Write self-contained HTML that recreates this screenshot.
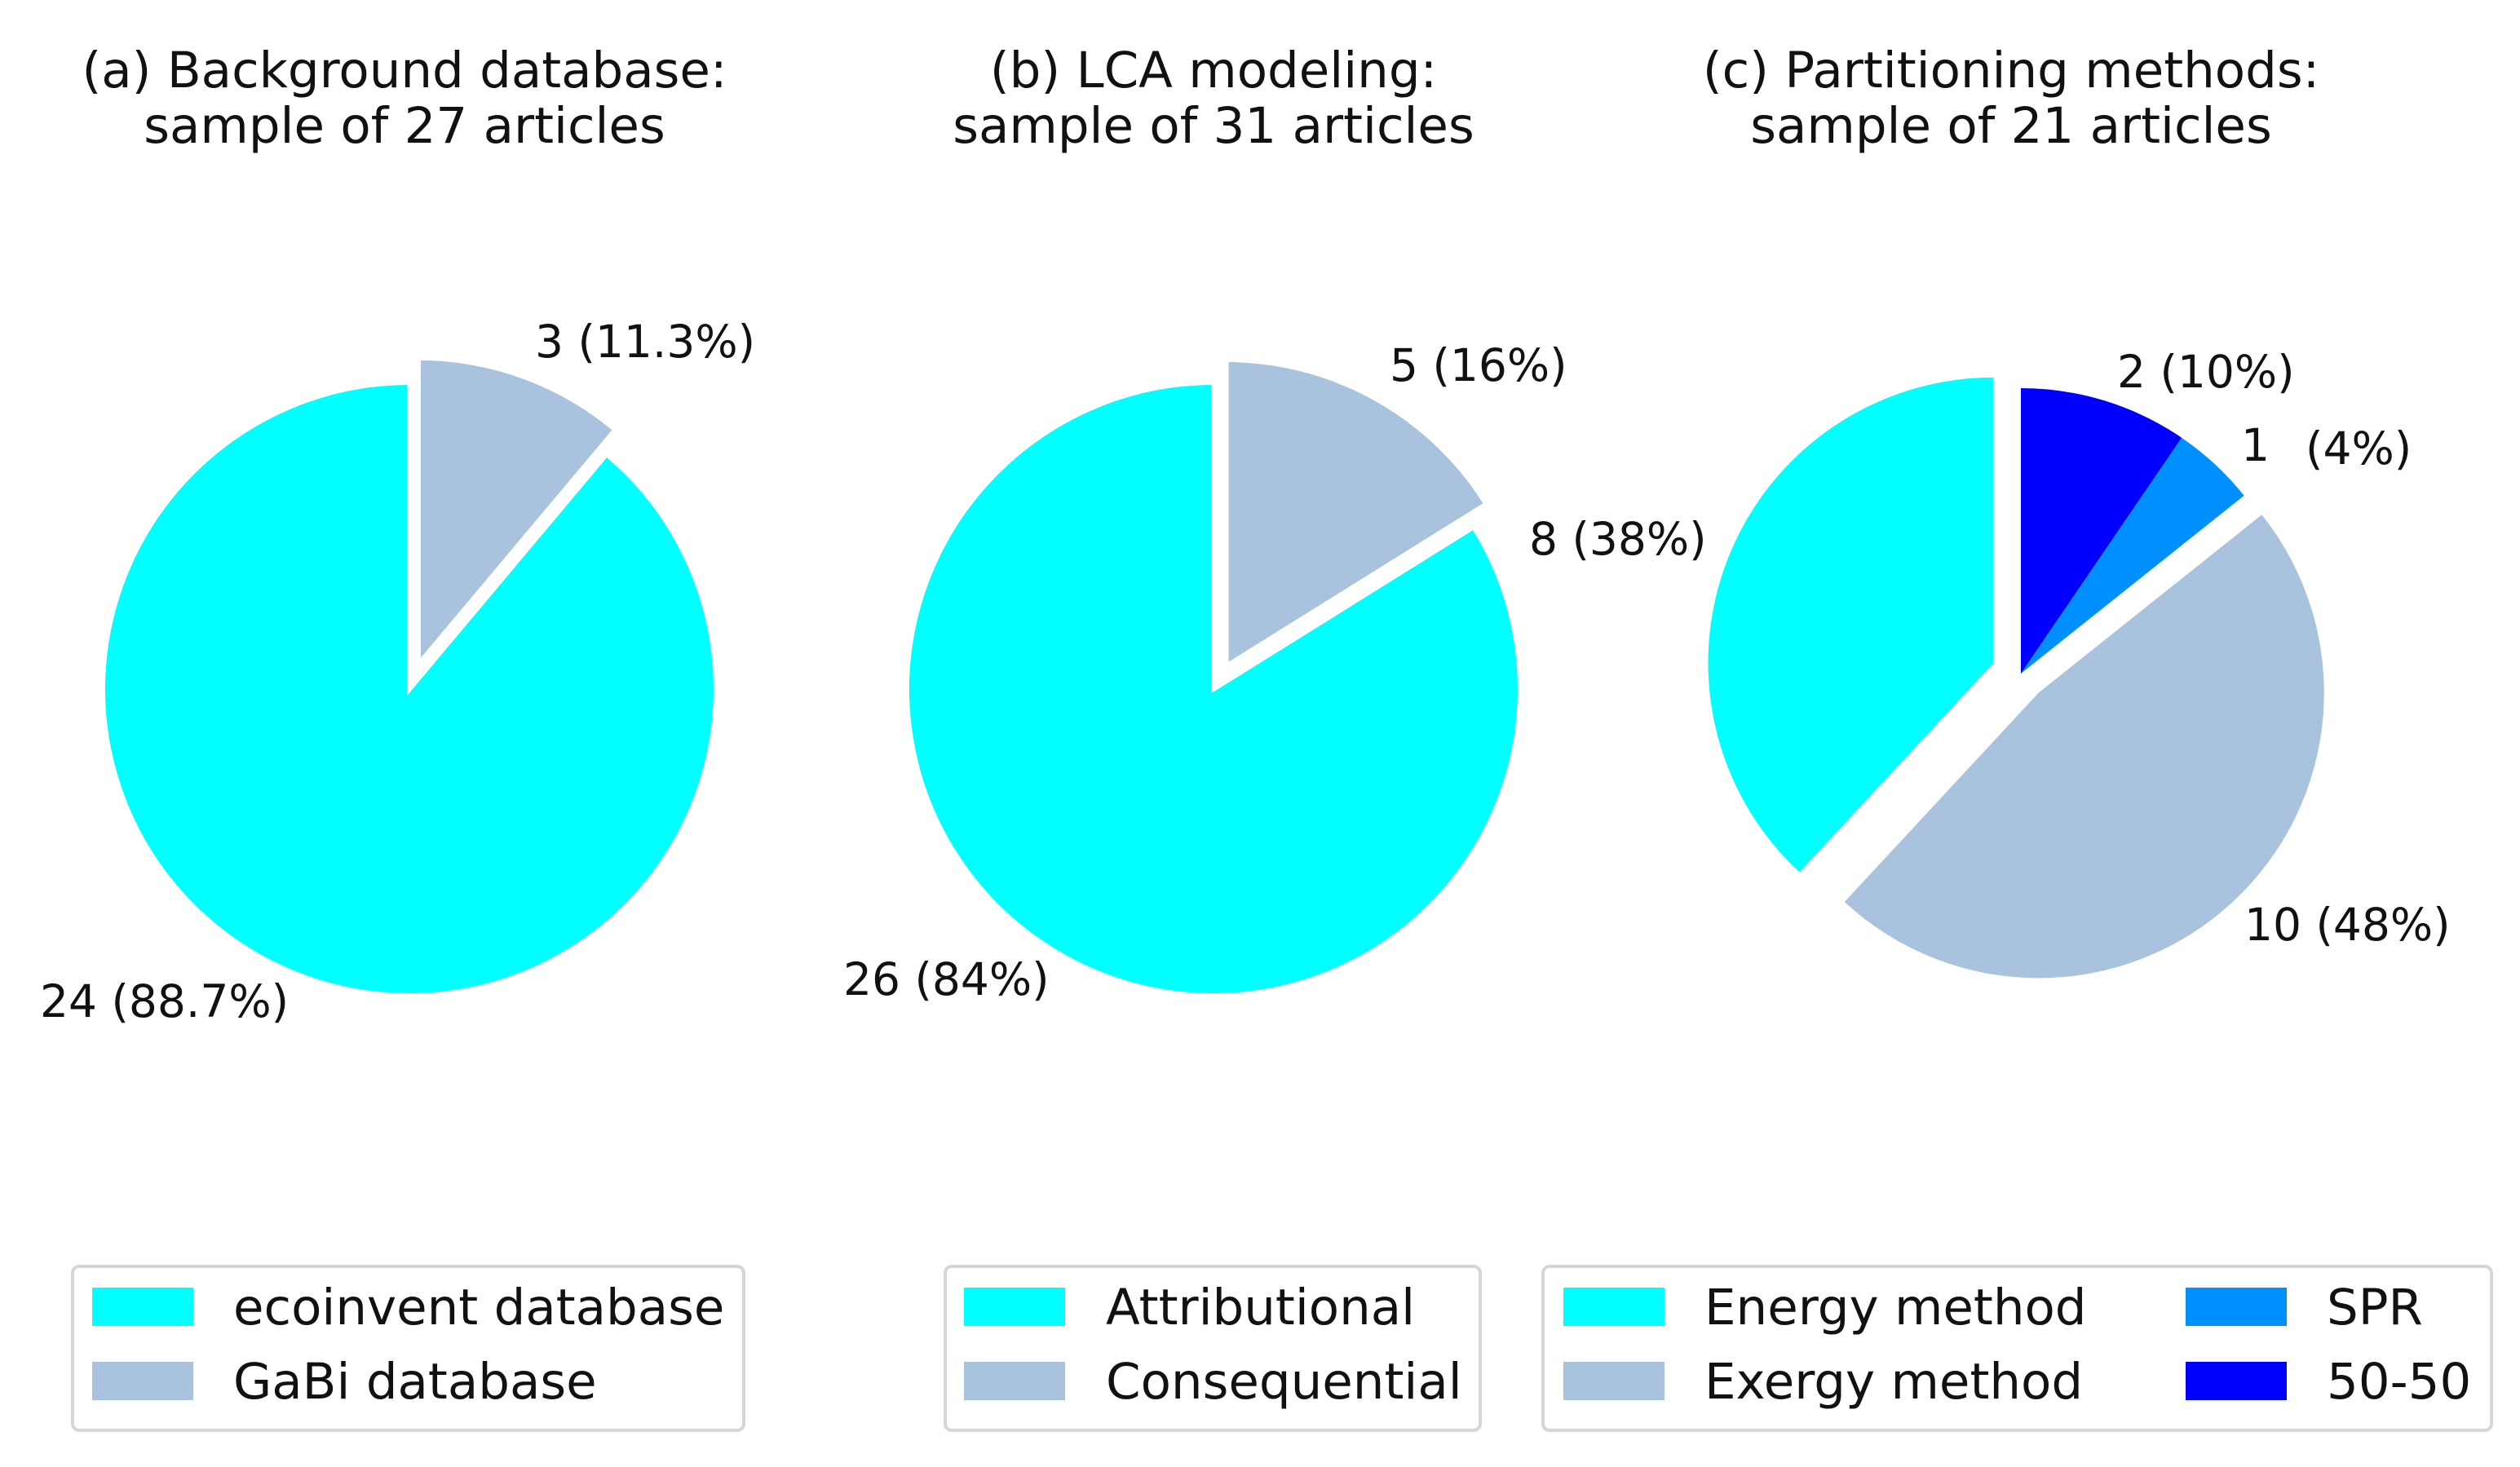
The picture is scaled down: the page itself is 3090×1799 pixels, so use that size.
<!DOCTYPE html>
<html><head><meta charset="utf-8"><style>
html,body{margin:0;padding:0;background:#fff;}
svg text{font-family:"DejaVu Sans","Liberation Sans",sans-serif;fill:#111;}
</style></head><body>
<svg id="chart" width="3090" height="1794" viewBox="0 0 3090 1794" xmlns="http://www.w3.org/2000/svg">
<g font-size="61" text-anchor="middle">
<text x="496" y="107">(a) Background database:</text>
<text x="496" y="175">sample of 27 articles</text>
<text x="1488" y="107">(b) LCA modeling:</text>
<text x="1488" y="175">sample of 31 articles</text>
<text x="2466" y="107">(c) Partitioning methods:</text>
<text x="2466" y="175">sample of 21 articles</text>
</g>
<g id="pies"></g>
<g font-size="55">
<text x="656" y="438">3 (11.3%)</text>
<text x="49" y="1247">24 (88.7%)</text>
<text x="1704" y="467">5 (16%)</text>
<text x="1875" y="680">8 (38%)</text>
<text x="1034" y="1220">26 (84%)</text>
<text x="2596" y="475">2 (10%)</text>
<text x="2748" y="565">1</text>
<text x="2827" y="569">(4%)</text>
<text x="2752" y="1153">10 (48%)</text>
</g>
<g font-size="61">
<rect x="89" y="1553" width="823" height="201" rx="8" fill="#fff" stroke="#d6d6d6" stroke-width="4"/>
<rect x="113" y="1579" width="124" height="47" fill="#00ffff"/>
<text x="286" y="1624">ecoinvent database</text>
<rect x="113" y="1670" width="124" height="47" fill="#a9c3de"/>
<text x="286" y="1715">GaBi database</text>

<rect x="1159" y="1553" width="656" height="201" rx="8" fill="#fff" stroke="#d6d6d6" stroke-width="4"/>
<rect x="1182" y="1579" width="124" height="47" fill="#00ffff"/>
<text x="1356" y="1624">Attributional</text>
<rect x="1182" y="1670" width="124" height="47" fill="#a9c3de"/>
<text x="1356" y="1715">Consequential</text>

<rect x="1892" y="1553" width="1163" height="201" rx="8" fill="#fff" stroke="#d6d6d6" stroke-width="4"/>
<rect x="1917" y="1579" width="124" height="47" fill="#00ffff"/>
<text x="2090" y="1624">Energy method</text>
<rect x="1917" y="1670" width="124" height="47" fill="#a9c3de"/>
<text x="2090" y="1715">Exergy method</text>
<rect x="2680" y="1579" width="124" height="47" fill="#0090ff"/>
<text x="2853" y="1624">SPR</text>
<rect x="2680" y="1670" width="124" height="47" fill="#0000ff"/>
<text x="2853" y="1715">50-50</text>
</g>
</svg>
<script>
// Data (clockwise from 12 o'clock)
const aCategories = ["GaBi database", "ecoinvent database"];
const aValues = [3, 24];
const bCategories = ["Consequential", "Attributional"];
const bValues = [5, 26];
const cCategories = ["50-50", "SPR", "Exergy method", "Energy method"];
const cValues = [2, 1, 10, 8];

const NS = "http://www.w3.org/2000/svg";
const root = document.getElementById("pies");
function drawPie(name, cats, vals, colors, cx, cy, r, explode, sw) {
  const total = vals.reduce((s, v) => s + v, 0);
  let acc = 0;
  vals.forEach((v, i) => {
    const a0 = acc / total * 2 * Math.PI;
    acc += v;
    const a1 = acc / total * 2 * Math.PI;
    const mid = (a0 + a1) / 2;
    const ox = cx + explode[i] * Math.sin(mid), oy = cy - explode[i] * Math.cos(mid);
    const x0 = ox + r * Math.sin(a0), y0 = oy - r * Math.cos(a0);
    const x1 = ox + r * Math.sin(a1), y1 = oy - r * Math.cos(a1);
    const large = (a1 - a0) > Math.PI ? 1 : 0;
    const p = document.createElementNS(NS, "path");
    p.setAttribute("d", `M${ox},${oy} L${x0},${y0} A${r},${r} 0 ${large} 1 ${x1},${y1} Z`);
    p.setAttribute("fill", colors[i]);
    p.setAttribute("stroke", "#fff");
    p.setAttribute("stroke-width", sw);
    
    
    root.appendChild(p);
  });
}
drawPie("a", aCategories, aValues, ["#a9c3de", "#00ffff"], 502, 845, 376, [32, 0], 6);
drawPie("b", bCategories, bValues, ["#a9c3de", "#00ffff"], 1488, 845, 376, [32, 0], 6);
drawPie("c", cCategories, cValues, ["#0000ff", "#0090ff", "#a9c3de", "#00ffff"], 2478, 826, 350, [0, 0, 32, 36], 0);
</script>
</body></html>
